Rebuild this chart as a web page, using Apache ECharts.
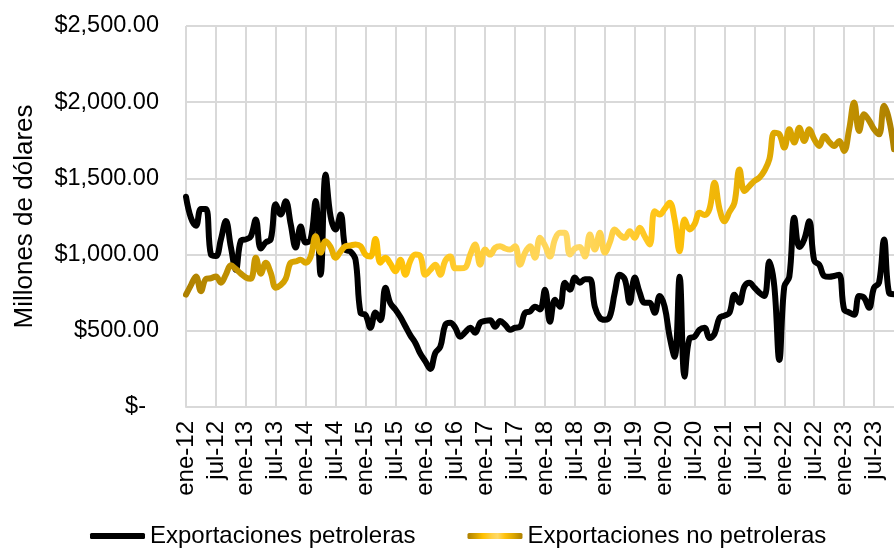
<!DOCTYPE html>
<html><head><meta charset="utf-8">
<script src="https://cdn.jsdelivr.net/npm/echarts@6/dist/echarts.min.js"></script>
<style>html,body{margin:0;padding:0;background:#fff}#c{width:894px;height:548px}</style>
</head><body><div id="c"></div>
<script>
const monthNames = ['ene','feb','mar','abr','may','jun','jul','ago','sep','oct','nov','dic'];
const years = ['12','13','14','15','16','17','18','19','20','21','22','23'];
const categories = [];
years.forEach(y => monthNames.forEach(m => categories.push(m + '-' + y)));
categories.length = 143; // ene-12 .. nov-23

const petroleras = [
 1380,1240,1190,1300,1300,1000,990,1100,1220,1050,
 900,1090,1100,1120,1230,1040,1080,1100,1330,1263,
 1350,1200,1046,1184,1079,1100,1351,868,1526,1250,
 1164,1263,1033,1020,967,618,605,520,620,570,
 783,680,640,590,530,470,420,350,300,250,
 355,395,539,553,520,461,490,520,487,553,
 565,570,526,565,540,507,520,526,618,627,
 658,640,770,559,704,658,816,770,849,816,
 838,838,658,585,572,594,750,868,838,684,
 849,750,684,684,618,728,658,461,329,855,
 199,452,461,507,520,452,480,585,600,618,
 737,684,791,816,783,750,728,955,791,309,
 791,855,1241,1050,1100,1219,960,934,860,855,
 860,868,640,620,605,728,717,651,783,816,
 1099,750,740
];
const noPetroleras = [
 737,800,857,760,840,845,857,816,870,930,
 905,875,850,842,980,875,947,880,783,800,
 842,947,955,967,947,987,1121,1013,1088,1050,
 980,1020,1055,1060,1066,1055,1000,987,1103,947,
 980,940,890,967,868,960,1000,990,868,900,
 934,868,960,987,910,910,915,1000,1066,934,
 1033,1000,1044,1055,1040,1033,1055,934,1013,1055,
 980,1110,1060,987,1100,1143,1143,1000,1040,1050,
 987,1132,1033,1143,1013,1080,1165,1130,1110,1154,
 1110,1176,1120,1066,1285,1263,1300,1340,1230,1022,
 1230,1165,1200,1274,1260,1300,1472,1300,1219,1280,
 1340,1559,1417,1450,1483,1505,1550,1625,1800,1790,
 1702,1822,1735,1833,1746,1822,1757,1713,1779,1740,
 1713,1746,1680,1822,1998,1811,1921,1880,1822,1789,
 1976,1887,1691
];
const yTicks = [0,500,1000,1500,2000,2500];
const seriesNames = ['Exportaciones petroleras','Exportaciones no petroleras'];
const yAxisName = 'Millones de dólares';

function money(v){
  if (v === 0) return '{z|$-}';
  const s = Math.round(v).toString().replace(/\B(?=(\d{3})+(?!\d))/g, ',');
  return '$' + s + '.00';
}
const FONT = '"Liberation Sans", Arial, sans-serif';
function goldGrad(){
  return new echarts.graphic.LinearGradient(0,0,1,0,[
    {offset:0,color:'#ad8000'},{offset:0.15,color:'#d6a200'},{offset:0.28,color:'#ffc000'},
    {offset:0.45,color:'#ffd24a'},{offset:0.55,color:'#ffd966'},{offset:0.68,color:'#ffc20d'},
    {offset:0.85,color:'#d9a400'},{offset:1,color:'#ad8000'}]);
}

const chart = echarts.init(document.getElementById('c'), null, {renderer:'canvas'});
chart.setOption({
  animation:false,
  backgroundColor:'#fff',
  grid:{left:186, right:0, top:26, bottom:141},
  legend:{
    left:85, top:519, itemWidth:55, itemHeight:6, itemGap:52, icon:'roundRect',
    textStyle:{fontFamily:FONT, fontSize:24, color:'#000'},
    data:[
      {name:seriesNames[0], itemStyle:{color:'#000'}},
      {name:seriesNames[1], itemStyle:{color:goldGrad()}}
    ]
  },
  xAxis:{
    type:'category', data:categories, boundaryGap:false,
    axisLine:{show:true, lineStyle:{color:'#d9d9d9', width:2}},
    axisTick:{show:false},
    axisLabel:{interval:5, rotate:90, margin:14, fontFamily:FONT, fontSize:24, color:'#000'},
    splitLine:{show:true, interval:(i)=> i % 6 === 0, lineStyle:{color:'#d9d9d9', width:2}}
  },
  yAxis:{
    type:'value', min:yTicks[0], max:yTicks[yTicks.length-1], interval:500,
    name:yAxisName, nameLocation:'middle', nameGap:148, nameRotate:90,
    nameTextStyle:{fontFamily:FONT, fontSize:26, color:'#000'},
    axisLine:{show:false}, axisTick:{show:false},
    axisLabel:{margin:27, fontFamily:FONT, fontSize:23.5, color:'#000', formatter:money,
      rich:{z:{fontFamily:FONT, fontSize:23.5, color:'#000', padding:[0,13,0,0]}}},
    splitLine:{show:true, lineStyle:{color:'#d9d9d9', width:2}}
  },
  series:[
    {name:seriesNames[0], type:'line', data:petroleras, smooth:0.4, showSymbol:false, symbol:'none',
     lineStyle:{color:'#000', width:6, cap:'round', join:'round'}, itemStyle:{color:'#000'}, clip:false},
    {name:seriesNames[1], type:'line', data:noPetroleras, smooth:0.4, showSymbol:false, symbol:'none',
     lineStyle:{color:goldGrad(), width:6, cap:'round', join:'round'}, itemStyle:{color:goldGrad()}, clip:false}
  ]
});
</script></body></html>
